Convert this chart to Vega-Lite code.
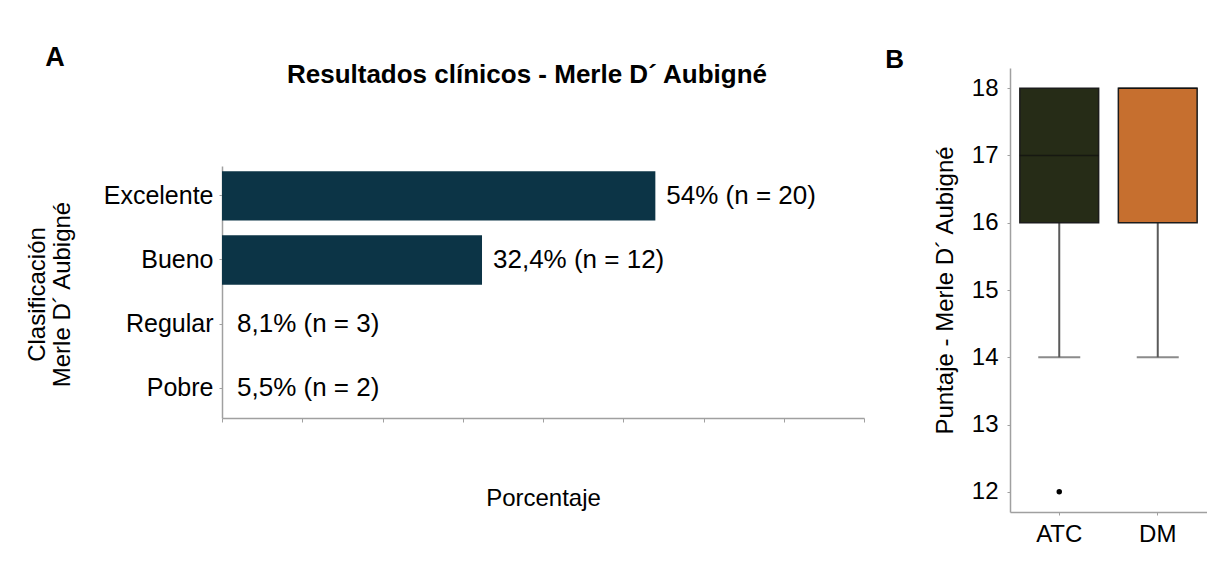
{
  "$schema": "https://vega.github.io/schema/vega-lite/v6.json",
  "background": "white",
  "padding": {"left": 25, "top": 44, "right": 0, "bottom": 0},
  "spacing": 20,
  "title": {"text": "A", "anchor": "start", "fontSize": 27, "fontWeight": "bold", "dx": 20, "offset": -25},
  "config": {
    "font": "Liberation Sans",
    "view": {"stroke": null},
    "axis": {
      "domainColor": "#a0a0a0",
      "domainWidth": 1.5,
      "tickColor": "#a0a0a0",
      "tickSize": 3,
      "labelColor": "#000000",
      "titleColor": "#000000",
      "labelFont": "Liberation Sans",
      "titleFont": "Liberation Sans",
      "titleFontWeight": "normal",
      "grid": false
    },
    "title": {"font": "Liberation Sans", "color": "#000000"}
  },
  "hconcat": [
    {
      "title": {"text": "Resultados clínicos - Merle D´ Aubigné", "fontSize": 26, "fontWeight": "bold", "frame": "group", "dx": -16, "offset": -20},
      "width": 642,
      "height": 350,
      "data": {"values": [
        {"categoria": "Excelente", "porcentaje": 54, "n": 20, "etiqueta": "54% (n = 20)"},
        {"categoria": "Bueno", "porcentaje": 32.4, "n": 12, "etiqueta": "32,4% (n = 12)"},
        {"categoria": "Regular", "porcentaje": 8.1, "n": 3, "etiqueta": "8,1% (n = 3)"},
        {"categoria": "Pobre", "porcentaje": 5.5, "n": 2, "etiqueta": "5,5% (n = 2)"}
      ]},
      "encoding": {
        "y": {
          "field": "categoria", "type": "nominal", "sort": null,
          "scale": {"range": [98, 350], "paddingInner": 0.23, "paddingOuter": 0.08},
          "axis": {
            "title": ["Clasificación", "Merle D´ Aubigné"],
            "titleFontSize": 24,
            "titlePadding": 29,
            "titleLineHeight": 25,
            "titleY": 226,
            "labelFontSize": 25,
            "labelPadding": 6
          }
        }
      },
      "layer": [
        {
          "transform": [{"filter": "datum.porcentaje > 10"}],
          "mark": {"type": "bar", "color": "#0c3446"},
          "encoding": {
            "x": {
              "field": "porcentaje", "type": "quantitative",
              "scale": {"domain": [0, 80], "nice": false},
              "axis": {
                "values": [0, 10, 20, 30, 40, 50, 60, 70, 80],
                "labels": false,
                "tickSize": 4,
                "title": "Porcentaje",
                "titleFontSize": 24,
                "titlePadding": 64
              }
            }
          }
        },
        {
          "transform": [{"filter": "datum.porcentaje > 10"}],
          "mark": {"type": "text", "align": "left", "baseline": "middle", "dx": 11, "fontSize": 26, "color": "#000000"},
          "encoding": {
            "x": {"field": "porcentaje", "type": "quantitative"},
            "text": {"field": "etiqueta"}
          }
        },
        {
          "transform": [{"filter": "datum.porcentaje <= 10"}],
          "mark": {"type": "text", "align": "left", "baseline": "middle", "dx": 15, "fontSize": 26, "color": "#000000"},
          "encoding": {
            "x": {"datum": 0, "type": "quantitative"},
            "text": {"field": "etiqueta"}
          }
        }
      ]
    },
    {
      "title": {"text": "B", "anchor": "start", "fontSize": 26, "fontWeight": "bold", "dx": -48, "offset": -5},
      "width": 197,
      "height": 444,
      "layer": [
        {
          "data": {"values": [
            {"grupo": "ATC", "minimo": 14, "q1": 16, "mediana": 17, "q3": 18, "maximo": 18},
            {"grupo": "DM", "minimo": 14, "q1": 16, "mediana": 18, "q3": 18, "maximo": 18}
          ]},
          "layer": [
            {
              "mark": {"type": "rule", "color": "#5a5a5a", "strokeWidth": 2},
              "encoding": {
                "x": {
                  "field": "grupo", "type": "nominal", "sort": ["ATC", "DM"],
                  "scale": {"paddingInner": 0.2, "paddingOuter": 0.1},
                  "axis": {"title": null, "labelAngle": 0, "labelFontSize": 24, "labelPadding": 7}
                },
                "y": {
                  "field": "minimo", "type": "quantitative",
                  "scale": {"domain": [11.7, 18.3], "nice": false, "zero": false},
                  "axis": {
                    "values": [12, 13, 14, 15, 16, 17, 18],
                    "format": "d",
                    "title": "Puntaje - Merle D´ Aubigné",
                    "titleFontSize": 24,
                    "titlePadding": 14,
                    "labelFontSize": 24,
                    "labelPadding": 9
                  }
                },
                "y2": {"field": "q1"}
              }
            },
            {
              "mark": {"type": "tick", "color": "#5a5a5a", "size": 42, "thickness": 2},
              "encoding": {
                "x": {"field": "grupo", "type": "nominal"},
                "y": {"field": "minimo", "type": "quantitative"}
              }
            },
            {
              "mark": {"type": "bar", "stroke": "#1c1c1c", "strokeWidth": 1.5},
              "encoding": {
                "x": {"field": "grupo", "type": "nominal"},
                "y": {"field": "q1", "type": "quantitative"},
                "y2": {"field": "q3"},
                "color": {
                  "field": "grupo", "type": "nominal",
                  "scale": {"domain": ["ATC", "DM"], "range": ["#262c17", "#c66f2f"]},
                  "legend": null
                }
              }
            },
            {
              "mark": {"type": "tick", "color": "#101010", "size": 79, "thickness": 1.5},
              "encoding": {
                "x": {"field": "grupo", "type": "nominal"},
                "y": {"field": "mediana", "type": "quantitative"}
              }
            }
          ]
        },
        {
          "data": {"values": [{"grupo": "ATC", "valor": 12}]},
          "mark": {"type": "point", "filled": true, "color": "#000000", "size": 30, "opacity": 1},
          "encoding": {
            "x": {"field": "grupo", "type": "nominal"},
            "y": {"field": "valor", "type": "quantitative"}
          }
        }
      ]
    }
  ]
}
